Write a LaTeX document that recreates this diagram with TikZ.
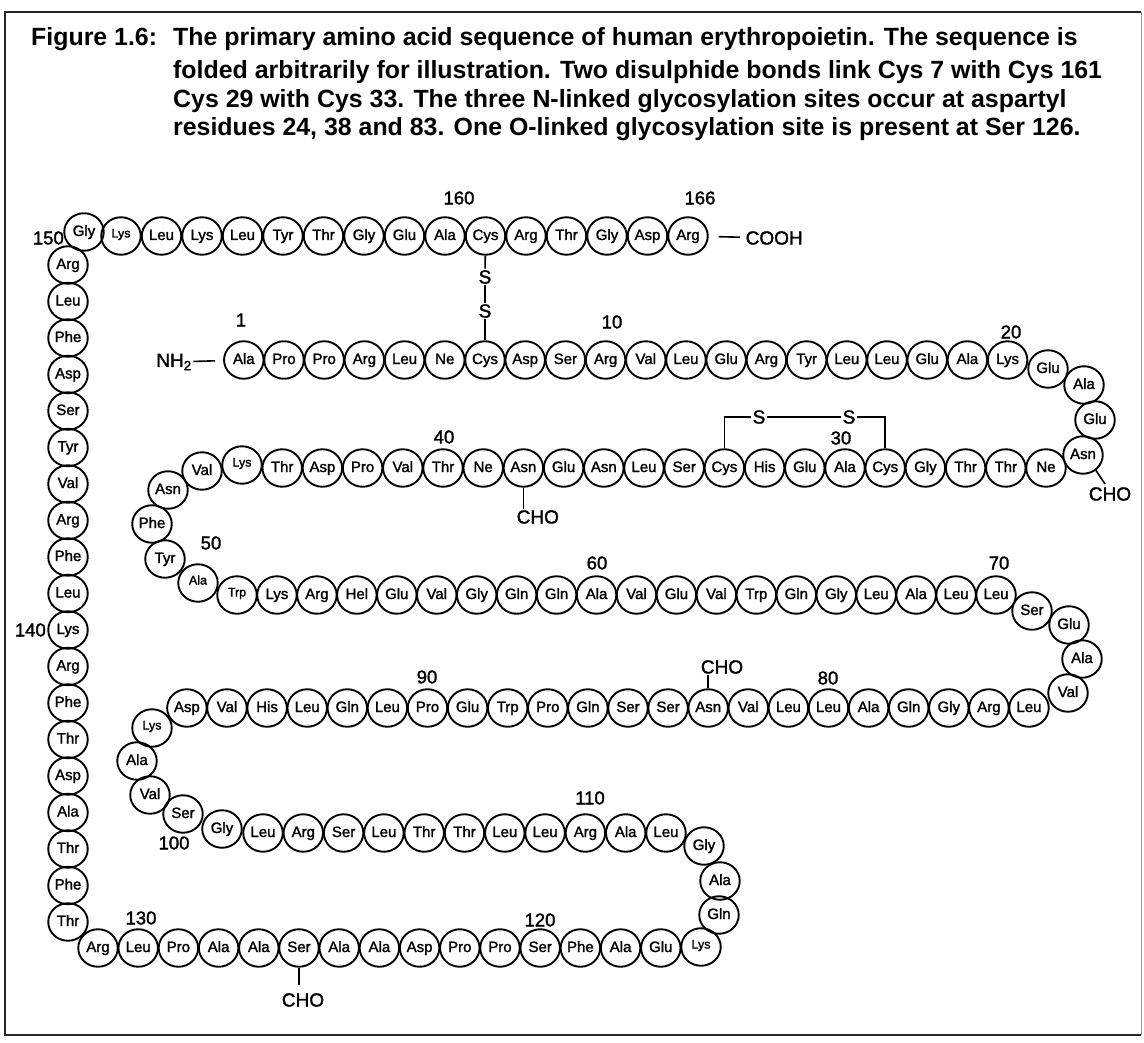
\documentclass[tikz,border=0pt]{standalone}
\usepackage{fontspec}
\setmainfont{Liberation Sans}
\newfontfamily\aafont[FakeBold=1.6]{Liberation Sans}
\usetikzlibrary{shapes.geometric}
\newcommand\smlab[1]{\raisebox{2.5pt}{\fontsize{12.5}{12.5}\selectfont #1}}
\begin{document}
\begin{tikzpicture}[x=1pt,y=-1pt,
 aa/.style={ellipse,draw,line width=1.9pt,minimum width=39.5pt,minimum height=37.5pt,inner sep=0pt,text height=10.5pt,text depth=2.5pt,font=\aafont\fontsize{15}{15}\selectfont},
 num/.style={inner sep=1pt,font=\aafont\fontsize{18.5}{18.5}\selectfont},
 chem/.style={inner sep=1.5pt,font=\aafont\fontsize{19}{19}\selectfont},
 bond/.style={line width=1.6pt},
 captext/.style={inner sep=0pt,font=\fontsize{24.9}{29}\bfseries\selectfont}]
\useasboundingbox (0,0) rectangle (1144,1043);
% frame
\draw[line width=2pt, black!85] (1141,12) -- (5,12) -- (5,1035) -- (1141,1035);
\draw[line width=0.8pt, black!40] (1141,12) -- (1141,1035);
% caption
\node[captext, anchor=base west] (fig) at (31,46) {Figure 1.6:};
\node[captext, anchor=base west] (c1) at (173,46) {The primary amino acid sequence of human erythropoietin. The sequence is};
\node[captext, anchor=base west] (c2) at (173,79) {folded arbitrarily for illustration. Two disulphide bonds link Cys 7 with Cys 161};
\node[captext, anchor=base west] (c3) at (173,108) {Cys 29 with Cys 33. The three N-linked glycosylation sites occur at aspartyl};
\node[captext, anchor=base west] (c4) at (173,136) {residues 24, 38 and 83. One O-linked glycosylation site is present at Ser 126.};
% top row 151-166
\node[aa] (r151) at (84,232) {Gly};
\foreach \t [count=\i from 152] in {\smlab{Lys},Leu,Lys,Leu,Tyr,Thr,Gly,Glu,Ala,Cys,Arg,Thr,Gly,Asp,Arg}{
  \pgfmathsetmacro\xx{80.5+40.5*(\i-151)}
  \node[aa] (r\i) at (\xx,236) {\t};}
% row 1-20
\foreach \t [count=\i from 1] in {Ala,Pro,Pro,Arg,Leu,Ne,Cys,Asp,Ser,Arg,Val,Leu,Glu,Arg,Tyr,Leu,Leu,Glu,Ala,Lys}{
  \pgfmathsetmacro\xx{485+40.2*(\i-7)}
  \node[aa] (r\i) at (\xx,360) {\t};}
\node[aa] (r21) at (1048,369) {Glu};
\node[aa] (r22) at (1084,385) {Ala};
\node[aa] (r23) at (1095,420) {Glu};
\node[aa] (r24) at (1083,455) {Asn};
% row 25-44
\foreach \t [count=\i from 25] in {Ne,Thr,Thr,Gly,Cys,Ala,Glu,His,Cys,Ser,Leu,Asn,Glu,Asn,Ne,Thr,Val,Pro,Asp,Thr}{
  \pgfmathsetmacro\xx{1046-40.2*(\i-25)}
  \node[aa] (r\i) at (\xx,468) {\t};}
\node[aa] (r45) at (242,465) {\smlab{Lys}};
\node[aa] (r46) at (202,471) {Val};
\node[aa] (r47) at (168,490) {Asn};
\node[aa] (r48) at (152,524) {Phe};
\node[aa] (r49) at (165,559) {Tyr};
\node[aa] (r50) at (198,583) {\smlab{Ala}};
% row 51-70
\foreach \t [count=\i from 51] in {\smlab{Trp},Lys,Arg,Hel,Glu,Val,Gly,Gln,Gln,Ala,Val,Glu,Val,Trp,Gln,Gly,Leu,Ala,Leu,Leu}{
  \pgfmathsetmacro\xx{237+39.95*(\i-51)}
  \node[aa] (r\i) at (\xx,595) {\t};}
\node[aa] (r71) at (1032,611) {Ser};
\node[aa] (r72) at (1069,625) {Glu};
\node[aa] (r73) at (1082,659) {Ala};
\node[aa] (r74) at (1068,693) {Val};
% row 75-96
\foreach \t [count=\i from 75] in {Leu,Arg,Gly,Gln,Ala,Leu,Leu,Val,Asn,Ser,Ser,Gln,Pro,Trp,Glu,Pro,Leu,Gln,Leu,His,Val,Asp}{
  \pgfmathsetmacro\xx{1029-40.1*(\i-75)}
  \node[aa] (r\i) at (\xx,708) {\t};}
\node[aa] (r97) at (152,728) {\smlab{Lys}};
\node[aa] (r98) at (137,761) {Ala};
\node[aa] (r99) at (150,795) {Val};
\node[aa] (r100) at (183,814) {Ser};
\node[aa] (r101) at (222,829) {Gly};
% row 102-112
\foreach \t [count=\i from 102] in {Leu,Arg,Ser,Leu,Thr,Thr,Leu,Leu,Arg,Ala,Leu}{
  \pgfmathsetmacro\xx{263+40.3*(\i-102)}
  \node[aa] (r\i) at (\xx,833) {\t};}
\node[aa] (r113) at (704,846) {Gly};
\node[aa] (r114) at (720,881) {Ala};
\node[aa] (r115) at (719,915) {Gln};
\node[aa] (r116) at (701,947) {\smlab{Lys}};
% bottom row 117-131
\foreach \t [count=\i from 117] in {Glu,Ala,Phe,Ser,Pro,Pro,Asp,Ala,Ala,Ser,Ala,Ala,Pro,Leu,Arg}{
  \pgfmathsetmacro\xx{701-40.2*(\i-116)}
  \node[aa] (r\i) at (\xx,948) {\t};}
% left column 132-150
\foreach \t [count=\i from 132] in {Thr,Phe,Thr,Ala,Asp,Thr,Phe,Arg,Lys,Leu,Phe,Arg,Val,Tyr,Ser,Asp,Phe,Leu,Arg}{
  \pgfmathsetmacro\yy{922-36.5*(\i-132)}
  \node[aa] (r\i) at (68,\yy) {\t};}
% numbers
\node[num, anchor=east] (n150) at (65,238) {150};
\node[num] (n160) at (459,198) {160};
\node[num] (n166) at (700,198) {166};
\node[num] (n1) at (241,320) {1};
\node[num] (n10) at (612,322) {10};
\node[num] (n20) at (1011,332) {20};
\node[num] (n30) at (841,438) {30};
\node[num] (n40) at (444,437) {40};
\node[num] (n50) at (211,543) {50};
\node[num] (n60) at (597,563) {60};
\node[num] (n70) at (999,563) {70};
\node[num] (n80) at (828,678) {80};
\node[num] (n90) at (427,677) {90};
\node[num] (n100) at (174,843) {100};
\node[num] (n110) at (590,798) {110};
\node[num] (n120) at (540,920) {120};
\node[num] (n130) at (141,918) {130};
\node[num, anchor=east] (n140) at (47,630) {140};
% termini
\node[chem] (nh2) at (174,362) {NH\textsubscript{2}};
\draw[bond, shorten >=8pt] (nh2) -- (r1);
\node[chem, anchor=west] (cooh) at (744,238) {COOH};
\draw[bond, shorten <=10pt, shorten >=4pt] (r166) -- (cooh);
% disulphide 7-161
\node[chem] (s1) at (485,277) {S};
\node[chem] (s2) at (485,311) {S};
\draw[bond] (r161) -- (s1);
\draw[bond] (s1) -- (s2);
\draw[bond] (s2) -- (r7);
% disulphide 29-33
\node[chem] (s3) at (759,417) {S};
\node[chem] (s4) at (849,417) {S};
\draw[bond] (r33.north) |- (s3.west);
\draw[bond] (s3.east) -- (s4.west);
\draw[bond] (s4.east) -| (r29.north);
% glycosylation
\node[chem] (cho24) at (1110,494) {CHO};
\coordinate (cho24top) at (1105,484);
\draw[bond] (r24.-50) -- (cho24top);
\node[chem, anchor=west] (cho38) at (515,517) {CHO};
\draw[bond] (r38.south) -- (r38.south |- cho38.north);
\node[chem] (cho83) at (722,667) {CHO};
\draw[bond] (r83.north) -- (r83.north |- cho83.south);
\node[chem] (cho126) at (303,1000) {CHO};
\draw[bond] (r126.south) -- ++(0,17);
\end{tikzpicture}
\end{document}
